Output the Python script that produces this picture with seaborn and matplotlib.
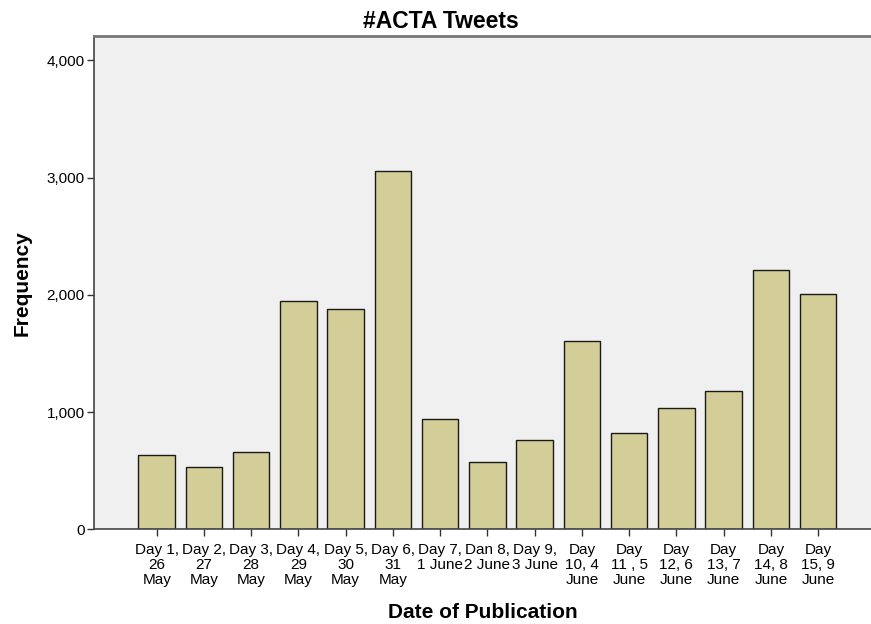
import seaborn as sns
import matplotlib
matplotlib.use('Agg')
import matplotlib.pyplot as plt
from matplotlib.ticker import FuncFormatter

# tweets per day
days = [
    'Day 1,\n26\nMay', 'Day 2,\n27\nMay', 'Day 3,\n28\nMay', 'Day 4,\n29\nMay',
    'Day 5,\n30\nMay', 'Day 6,\n31\nMay', 'Day 7,\n1 June', 'Dan 8,\n2 June',
    'Day 9,\n3 June', 'Day\n10, 4\nJune', 'Day\n11 , 5\nJune', 'Day\n12, 6\nJune',
    'Day\n13, 7\nJune', 'Day\n14, 8\nJune', 'Day\n15, 9\nJune',
]
tweets = [631, 529, 659, 1945, 1876, 3053, 938, 574, 762, 1609, 819, 1035, 1182, 2212, 2007]
yticks = [0, 1000, 2000, 3000, 4000]

sns.set_theme(style='ticks')
plt.rcParams['font.family'] = ['Liberation Sans', 'DejaVu Sans']
plt.rcParams['text.color'] = 'black'
plt.rcParams['axes.labelcolor'] = 'black'
plt.rcParams['xtick.color'] = 'black'
plt.rcParams['ytick.color'] = 'black'

fig = plt.figure(figsize=(8.71, 6.24), dpi=100)
ax = fig.add_axes([0.1083, 0.1518, 0.8917, 0.7905])
ax.set_facecolor('#f0f0f0')

sns.barplot(x=days, y=tweets, color='#d3ce97', saturation=1, width=0.775,
    edgecolor='#1a1a1a', linewidth=1.0, ax=ax)

ax.set_xlim(-1.32, 15.12)
ax.set_ylim(0, 4207)
ax.set_yticks(yticks)
ax.yaxis.set_major_formatter(FuncFormatter(lambda v, p: f'{int(v):,}'))

ax.tick_params(axis='both', direction='out', length=5, width=1, color='#333333',
    labelsize=11, pad=2)
ax.tick_params(axis='x', pad=5)
for lab in ax.get_xticklabels():
    lab.set_linespacing(1.07)
    lab.set_multialignment('center')

for side in ('left', 'bottom'):
    ax.spines[side].set_color('#444444')
    ax.spines[side].set_linewidth(1.2)
ax.spines['top'].set_visible(True)
ax.spines['top'].set_color('#777777')
ax.spines['top'].set_linewidth(2)
ax.spines['right'].set_visible(False)

fig.suptitle('#ACTA Tweets', x=0.506, y=0.965, va='center', fontsize=16.5,
    fontweight='bold')
ax.set_xlabel('Date of Publication', fontsize=15, fontweight='bold', labelpad=12)
ax.set_ylabel('Frequency', fontsize=15, fontweight='bold', labelpad=11)

fig.savefig('out.png', dpi=100)
plt.close()
